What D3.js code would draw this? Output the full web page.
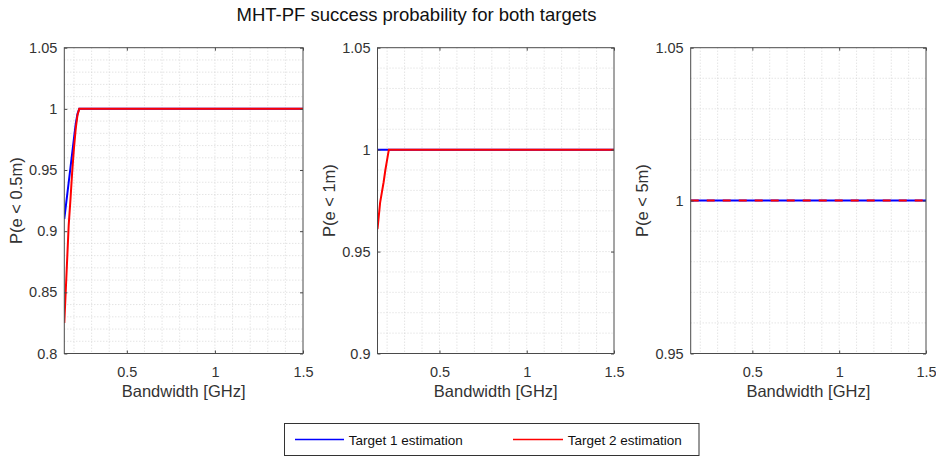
<!DOCTYPE html>
<html>
<head>
<meta charset="utf-8">
<script src="https://cdn.jsdelivr.net/npm/d3@7"></script>
<style>
  html, body { margin: 0; padding: 0; background: #fff; }
  svg { display: block; font-family: "Liberation Sans", Arial, Helvetica, sans-serif; }
</style>
</head>
<body>
<svg id="chart" width="936" height="457"></svg>
<script>
// ---------------- DATA ----------------
const title = "MHT-PF success probability for both targets";
const seriesNames = ["Target 1 estimation", "Target 2 estimation"];
const xLabel = "Bandwidth [GHz]";
const yLabels = ["P(e < 0.5m)", "P(e < 1m)", "P(e < 5m)"];

const bandwidth = [0.145, 0.16, 0.17, 0.18, 0.19, 0.2, 0.21, 0.22, 0.23,
                   0.3, 0.4, 0.5, 0.6, 0.7, 0.8, 0.9, 1.0, 1.1, 1.2, 1.3, 1.4, 1.5];

// P(e < 0.5m)
const t1_p05 = [0.91, 0.928, 0.94, 0.952, 0.964, 0.976, 0.988, 0.996, 1,
                1, 1, 1, 1, 1, 1, 1, 1, 1, 1, 1, 1, 1];
const t2_p05 = [0.825, 0.873, 0.905, 0.926, 0.949, 0.968, 0.984, 0.995, 1,
                1, 1, 1, 1, 1, 1, 1, 1, 1, 1, 1, 1, 1];
// P(e < 1m)
const t1_p1 = [1, 1, 1, 1, 1, 1, 1, 1, 1,
               1, 1, 1, 1, 1, 1, 1, 1, 1, 1, 1, 1, 1];
const t2_p1 = [0.961, 0.974, 0.979, 0.984, 0.990, 0.995, 1, 1, 1,
               1, 1, 1, 1, 1, 1, 1, 1, 1, 1, 1, 1, 1];
// P(e < 5m)
const t1_p5 = [1, 1, 1, 1, 1, 1, 1, 1, 1,
               1, 1, 1, 1, 1, 1, 1, 1, 1, 1, 1, 1, 1];
const t2_p5 = [1, 1, 1, 1, 1, 1, 1, 1, 1,
               1, 1, 1, 1, 1, 1, 1, 1, 1, 1, 1, 1, 1];

const xTicks = [0.5, 1, 1.5];
const yDomains = [[0.8, 1.05], [0.9, 1.05], [0.95, 1.05]];
const yTicks = [
  [0.8, 0.85, 0.9, 0.95, 1, 1.05],
  [0.9, 0.95, 1, 1.05],
  [0.95, 1, 1.05]
];
const yTickLabels = [
  ["0.8", "0.85", "0.9", "0.95", "1", "1.05"],
  ["0.9", "0.95", "1", "1.05"],
  ["0.95", "1", "1.05"]
];
const xTickLabels = ["0.5", "1", "1.5"];

// ---------------- LAYOUT ----------------
const svg = d3.select("#chart");
const seriesColors = ["#0000ff", "#ff0000"];
const textColor = "#333333";
const topY = 47.7, bottomY = 353.5;
const panels = [
  { left: 64.3, right: 303.0, labelX: 22,  series: [t1_p05, t2_p05], dash: null },
  { left: 377.5, right: 614.0, labelX: 335, series: [t1_p1, t2_p1], dash: null },
  { left: 690.7, right: 926.0, labelX: 648, series: [t1_p5, t2_p5], dash: "8,8" }
];

svg.append("text")
  .attr("x", 416.5).attr("y", 21)
  .attr("text-anchor", "middle")
  .attr("font-size", 18.5)
  .attr("fill", "#111")
  .text(title);

const defs = svg.append("defs");

panels.forEach((p, i) => {
  const x = d3.scaleLinear().domain(d3.extent(bandwidth)).range([p.left, p.right]);
  const y = d3.scaleLinear().domain(yDomains[i]).range([bottomY, topY]);
  const g = svg.append("g");

  // minor grid (x every 0.1, y every 0.01)
  const xMinor = d3.range(2, 16).map(v => v / 10).filter(v => v > x.domain()[0] && v < x.domain()[1]);
  const [y0, y1] = yDomains[i];
  const yMinor = d3.range(Math.round(y0 * 100) + 1, Math.round(y1 * 100)).map(v => v / 100);

  g.append("g").selectAll("line").data(xMinor).join("line")
    .attr("x1", d => x(d)).attr("x2", d => x(d))
    .attr("y1", topY).attr("y2", bottomY)
    .attr("stroke", "#cfcfcf").attr("stroke-width", 0.8)
    .attr("stroke-dasharray", "1,2");
  g.append("g").selectAll("line").data(yMinor).join("line")
    .attr("x1", p.left).attr("x2", p.right)
    .attr("y1", d => y(d)).attr("y2", d => y(d))
    .attr("stroke", "#cfcfcf").attr("stroke-width", 0.8)
    .attr("stroke-dasharray", "1,2");

  // clip
  defs.append("clipPath").attr("id", "clip" + i)
    .append("rect").attr("x", p.left).attr("y", topY - 2)
    .attr("width", p.right - p.left + 2).attr("height", bottomY - topY + 4);

  // lines
  const line = d3.line().x((d, k) => x(bandwidth[k])).y(d => y(d));
  p.series.forEach((s, si) => {
    g.append("path")
      .attr("clip-path", `url(#clip${i})`)
      .attr("d", line(s))
      .attr("fill", "none")
      .attr("stroke", seriesColors[si])
      .attr("stroke-width", 2)
      .attr("stroke-dasharray", si === 1 && p.dash ? p.dash : null);
  });

  // box
  g.append("rect")
    .attr("x", p.left).attr("y", topY)
    .attr("width", p.right - p.left).attr("height", bottomY - topY)
    .attr("fill", "none").attr("stroke", "#4a4a4a").attr("stroke-width", 1);

  // axes with inward ticks
  const xAxisB = d3.axisBottom(x).tickValues(xTicks).tickSize(-3).tickPadding(13)
    .tickFormat((d, k) => xTickLabels[k]);
  const xAxisT = d3.axisTop(x).tickValues(xTicks).tickSize(-3).tickFormat("");
  const yAxisL = d3.axisLeft(y).tickValues(yTicks[i]).tickSize(-3).tickPadding(7)
    .tickFormat((d, k) => yTickLabels[i][k]);
  const yAxisR = d3.axisRight(y).tickValues(yTicks[i]).tickSize(-3).tickFormat("");

  const styleAxis = sel => {
    sel.select(".domain").remove();
    sel.selectAll(".tick line").attr("stroke", "#4a4a4a");
    sel.selectAll(".tick text").attr("fill", textColor)
      .attr("font-size", 14.5)
      .attr("font-family", "Liberation Sans, Arial, sans-serif");
  };
  g.append("g").attr("transform", `translate(0,${bottomY})`).call(xAxisB).call(styleAxis);
  g.append("g").attr("transform", `translate(0,${topY})`).call(xAxisT).call(styleAxis);
  g.append("g").attr("transform", `translate(${p.left},0)`).call(yAxisL).call(styleAxis);
  g.append("g").attr("transform", `translate(${p.right},0)`).call(yAxisR).call(styleAxis);

  // axis labels
  g.append("text")
    .attr("x", (p.left + p.right) / 2).attr("y", 397)
    .attr("text-anchor", "middle").attr("font-size", 16.5)
    .attr("fill", textColor).text(xLabel);
  g.append("text")
    .attr("transform", `translate(${p.labelX},${(topY + bottomY) / 2}) rotate(-90)`)
    .attr("text-anchor", "middle").attr("font-size", 16.5)
    .attr("fill", textColor).text(yLabels[i]);
});

// legend
const lg = svg.append("g");
lg.append("rect").attr("x", 284.5).attr("y", 423.5).attr("width", 414.5).attr("height", 32)
  .attr("fill", "#fff").attr("stroke", "#333").attr("stroke-width", 1);
const legendItems = [
  { x1: 295, x2: 344, tx: 348.7 },
  { x1: 513, x2: 563, tx: 567.7 }
];
legendItems.forEach((it, k) => {
  lg.append("line").attr("x1", it.x1).attr("x2", it.x2).attr("y1", 439.5).attr("y2", 439.5)
    .attr("stroke", seriesColors[k]).attr("stroke-width", 1.3);
  lg.append("text").attr("x", it.tx).attr("y", 444.5).attr("font-size", 13.5)
    .attr("fill", "#111").text(seriesNames[k]);
});
</script>
</body>
</html>
